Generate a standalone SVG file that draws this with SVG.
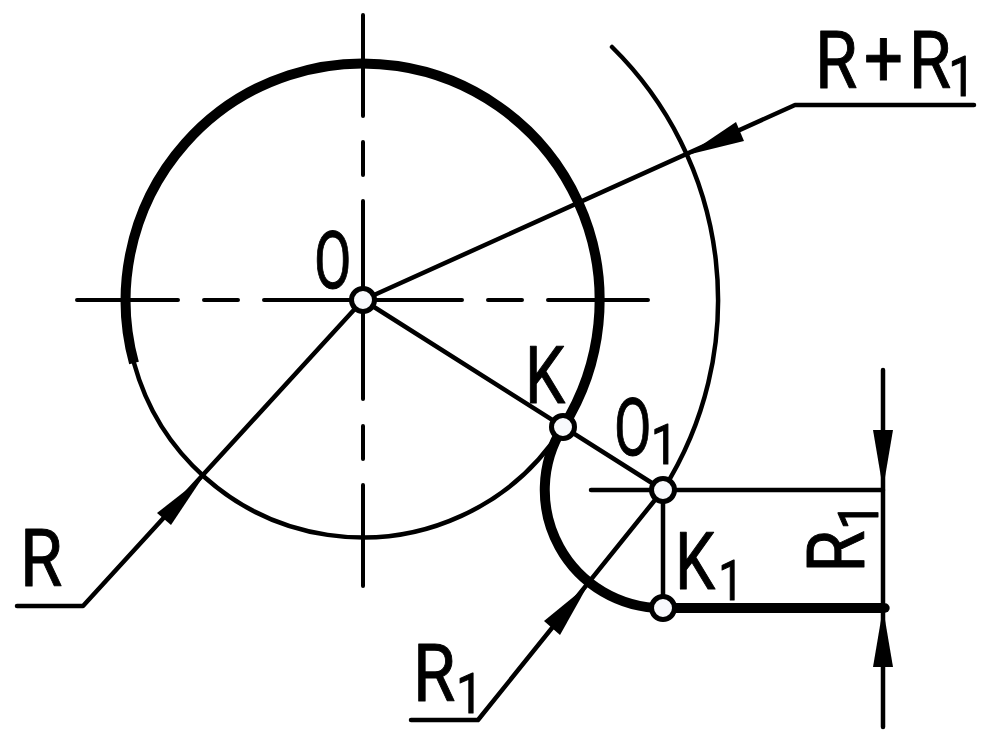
<svg xmlns="http://www.w3.org/2000/svg" width="982" height="750" viewBox="0 0 982 750">
<style>
.thin{fill:none;stroke:#000;stroke-width:4.5;stroke-linecap:round;stroke-linejoin:round}
.center{fill:none;stroke:#000;stroke-width:4;stroke-linecap:round}
.thick{fill:none;stroke:#000;stroke-width:10}
.pt{fill:#f8f9fc;stroke:#000;stroke-width:5}
.ah{fill:#000;stroke:none}
text{font-family:Roboto,"Liberation Sans",sans-serif;font-size:80px;fill:#000;stroke:#000;stroke-width:1;stroke-linejoin:round}
.s{font-size:56px}
</style>
<rect width="982" height="750" fill="#fff"/>
<g id="connectors">
<path class="center" d="M77 300H178M204 300H238M264 300H462M488 300H522M548 300H648"/>
<path class="center" d="M363 15V116M363 142V175M363 201V399M363 426V459M363 485V586"/>
<path class="thin" d="M134 363A237 237 0 0 0 563 427"/>
<path class="thick" d="M134 363A237 237 0 1 1 563 427"/>
<path class="thin" d="M612 47A355 355 0 0 1 663 490"/>
<path class="thick" d="M563 427A118 118 0 0 0 663 608H885"/>
<circle cx="885" cy="608" r="4.7" fill="#000"/>
<path class="thin" d="M363 300L795 105H974"/>
<path class="thin" d="M363 300L83 606H17"/>
<path class="thin" d="M363 300L663 490M591 490H883M663 490V608"/>
<path class="thin" d="M663 490L478 720H411"/>
<path class="thin" d="M883 370V727"/>
<path class="ah" d="M687 155L736 122L744 141Z"/>
<path class="ah" d="M203 477L157 513L171 525Z"/>
<path class="ah" d="M588 585L544 621L560 635Z"/>
<path class="ah" d="M883 489L873 430H893Z"/>
<path class="ah" d="M883 608L873 667H893Z"/>
</g>
<g id="node-O"><circle class="pt" cx="363" cy="300" r="11.5"/><text transform="translate(314,288) scale(.68,1)">O</text></g>
<g id="node-K"><circle class="pt" cx="563" cy="427" r="11.5"/><text transform="translate(525,403) scale(.8,1)">K</text></g>
<g id="node-O1"><circle class="pt" cx="663" cy="490" r="11.5"/><text transform="translate(614,455) scale(.68,1)">O<tspan class="s" x="54" y="9" textLength="40" lengthAdjust="spacingAndGlyphs">1</tspan></text></g>
<g id="node-K1"><circle class="pt" cx="663" cy="608" r="11.5"/><text transform="translate(675,589) scale(.8,1)">K<tspan class="s" x="54" y="11">1</tspan></text></g>
<g id="label-R"><text transform="translate(20,586) scale(.86,1)">R</text></g>
<g id="label-R1"><text transform="translate(413,701) scale(.86,1)">R<tspan class="s" x="50" y="12">1</tspan></text></g>
<g id="label-RR1"><text transform="translate(815,88) scale(.86,1)" ><tspan x="0">R</tspan><tspan x="57" y="-2">+</tspan><tspan x="109" y="0">R</tspan><tspan class="s" x="155" y="8">1</tspan></text></g>
<g id="label-R1-dim"><text transform="translate(864,572.7) rotate(-90) scale(.86,1)">R<tspan class="s" x="50" y="14">1</tspan></text></g>
</svg>
